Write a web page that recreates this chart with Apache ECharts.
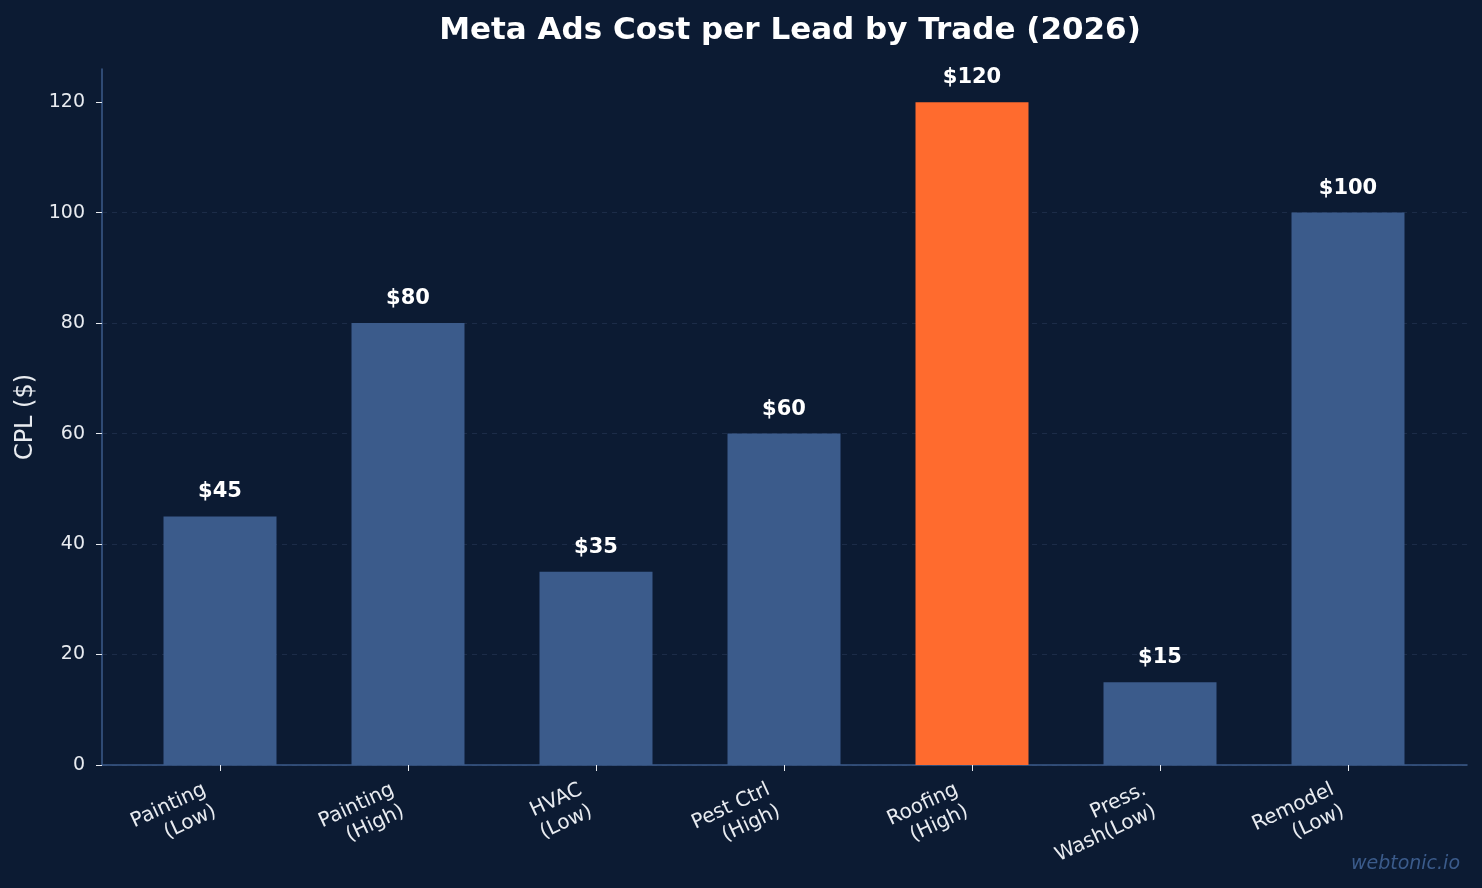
<!DOCTYPE html>
<html>
<head>
<meta charset="utf-8">
<script src="https://cdn.jsdelivr.net/npm/echarts@6/dist/echarts.min.js"></script>
<style>
  html, body { margin: 0; padding: 0; background: #0c1b33; }
  #chart { width: 1482px; height: 888px; }
</style>
</head>
<body>
<div id="chart"></div>
<script>
// chart data
var trades = ['Painting\n(Low)', 'Painting\n(High)', 'HVAC\n(Low)', 'Pest Ctrl\n(High)', 'Roofing\n(High)', 'Press.\nWash(Low)', 'Remodel\n(Low)']
var cplValues = [45, 80, 35, 60, 120, 15, 100]
var highlightIndex = 4
var yTickValues = [0, 20, 40, 60, 80, 100, 120]
var yMax = 126

var bg = '#0c1b33'
var barBlue = '#3b5b8b'
var barOrange = '#ff6b2e'
var textColor = '#e8ebf0'
var axisColor = '#3b5b8b'

var chart = echarts.init(document.getElementById('chart'))

var option = {
  backgroundColor: bg,
  animation: false,
  textStyle: { fontFamily: 'DejaVu Sans' },
  title: {
    text: 'Meta Ads Cost per Lead by Trade (2026)',
    left: 785,
    top: 10,
    textAlign: 'center',
    textStyle: { color: '#ffffff', fontSize: 31, fontWeight: 'bold', fontFamily: 'DejaVu Sans' }
  },
  graphic: [{
    type: 'text',
    right: 22,
    top: 855,
    style: { text: 'webtonic.io', fill: '#3b5b8b', font: 'italic 19px "DejaVu Sans"' }
  }],
  grid: [
    { left: 102, right: 15, top: 69, bottom: 123 },
    { left: 126, right: 40, top: 69, bottom: 123 }
  ],
  xAxis: [
    {
      // full-width axis spine
      type: 'value', gridIndex: 0, min: 0, max: 1,
      axisLine: { show: true, lineStyle: { color: axisColor, width: 1.5 } },
      axisTick: { show: false },
      axisLabel: { show: false },
      splitLine: { show: false }
    },
    {
      type: 'category', gridIndex: 1, data: trades,
      axisLine: { show: false },
      axisTick: { show: true, alignWithLabel: true, length: 6, lineStyle: { color: textColor, width: 1 } },
      axisLabel: {
        color: textColor, fontSize: 20, rotate: 25, margin: 30,
        align: 'right', lineHeight: 24, padding: [0, 11, 0, 0]
      }
    }
  ],
  yAxis: [
    {
      type: 'value', gridIndex: 0,
      min: 0, max: yMax,
      name: 'CPL ($)', nameLocation: 'middle', nameGap: 62,
      nameTextStyle: { color: textColor, fontSize: 24 },
      axisLine: { show: true, lineStyle: { color: axisColor, width: 1.5 } },
      axisTick: { show: true, length: 6, customValues: yTickValues, lineStyle: { color: textColor } },
      axisLabel: { color: textColor, fontSize: 19, margin: 17, customValues: yTickValues },
      splitLine: { show: true, showMaxLine: false, lineStyle: { color: '#1c2c48', type: [5, 5], width: 1 } }
    },
    {
      type: 'value', gridIndex: 1,
      min: 0, max: yMax,
      show: false, splitLine: { show: false }
    }
  ],
  series: [{
    type: 'bar',
    xAxisIndex: 1,
    yAxisIndex: 1,
    barWidth: 113,
    data: cplValues.map(function (v, i) {
      return { value: v, itemStyle: { color: i === highlightIndex ? barOrange : barBlue } }
    }),
    label: {
      show: true, position: 'top', distance: 14,
      formatter: function (p) { return '$' + p.value },
      color: '#ffffff', fontSize: 21, fontWeight: 'bold', fontFamily: 'DejaVu Sans'
    }
  }]
}

chart.setOption(option)
</script>
</body>
</html>
